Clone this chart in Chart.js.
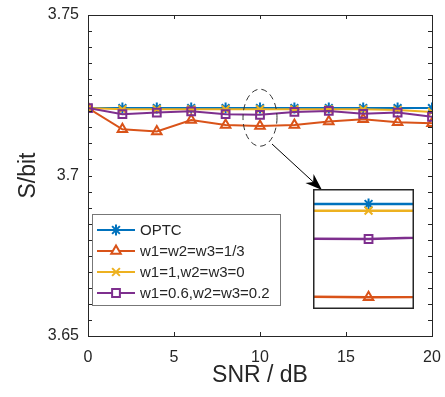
<!DOCTYPE html>
<html>
<head>
<meta charset="utf-8">
<script src="https://cdn.jsdelivr.net/npm/chart.js@4/dist/chart.umd.min.js"></script>
<style>
  html, body { margin: 0; padding: 0; background: #fff; }
  #wrap { position: relative; width: 445px; height: 397px; }
  #main { position: absolute; left: 0; top: 0; }
  #inset { position: absolute; left: 313px; top: 189px; }
</style>
</head>
<body>
<div id="wrap">
  <canvas id="main" width="445" height="397"></canvas>
  <canvas id="inset" width="101" height="120"></canvas>
</div>
<script>
const snr = [0, 2, 4, 6, 8, 10, 12, 14, 16, 18, 20];
const optc = [3.7210, 3.7210, 3.7210, 3.7210, 3.7210, 3.7210, 3.7210, 3.7210, 3.7210, 3.7210, 3.7210];
const equalW = [3.7210, 3.7144, 3.7137, 3.7173, 3.7157, 3.7154, 3.7157, 3.7168, 3.7175, 3.7166, 3.7163];
const w1Only = [3.7210, 3.7206, 3.7206, 3.7206, 3.7206, 3.7206, 3.7206, 3.7206, 3.7206, 3.7204, 3.7198];
const w1Mixed = [3.7210, 3.7191, 3.7196, 3.7200, 3.7191, 3.7189, 3.7198, 3.7201, 3.7192, 3.7196, 3.7183];
const labels = ["OPTC", "w1=w2=w3=1/3", "w1=1,w2=w3=0", "w1=0.6,w2=w3=0.2"];
const xTicks = [0, 5, 10, 15, 20];
const yTicks = [3.65, 3.7, 3.75];

const FONT = "'Liberation Sans', Arial, sans-serif";
const AX = "#262626";

const seriesStyle = [
  { color: "#0072BD", point: "star", order: 4 },
  { color: "#D95319", point: "triangle", order: 3 },
  { color: "#EDB120", point: "crossRot", order: 2 },
  { color: "#7E2F8E", point: "rect", order: 1 },
];

function makeDatasets(radius, width) {
  return [optc, equalW, w1Only, w1Mixed].map((vals, i) => ({
    label: labels[i],
    data: snr.map((x, j) => ({ x, y: vals[j] })),
    borderColor: seriesStyle[i].color,
    backgroundColor: "rgba(0,0,0,0)",
    borderWidth: width,
    pointStyle: seriesStyle[i].point,
    pointRadius: radius,
    pointBorderWidth: 2,
    pointBorderColor: seriesStyle[i].color,
    pointBackgroundColor: "rgba(0,0,0,0)",
    order: seriesStyle[i].order,
    tension: 0,
    clip: 0,
  }));
}

// axes frame, inward ticks, titles, ellipse, arrow, legend
const decor = {
  id: "decor",
  afterDraw(chart) {
    const { ctx, chartArea: a, scales } = chart;
    const xs = scales.x, ys = scales.y;
    ctx.save();
    ctx.strokeStyle = AX;
    ctx.lineWidth = 1;
    ctx.strokeRect(Math.round(a.left) + 0.5, Math.round(a.top) + 0.5,
      Math.round(a.right - a.left), Math.round(a.bottom - a.top));
    ctx.beginPath();
    for (let i = 0; i <= 20; i++) {
      const py = Math.round(ys.getPixelForValue(3.65 + i * 0.005)) + 0.5;
      ctx.moveTo(a.left, py); ctx.lineTo(a.left + 4, py);
      ctx.moveTo(a.right, py); ctx.lineTo(a.right - 4, py);
    }
    xTicks.forEach(v => {
      const px = Math.round(xs.getPixelForValue(v)) + 0.5;
      ctx.moveTo(px, a.bottom); ctx.lineTo(px, a.bottom - 4);
      ctx.moveTo(px, a.top); ctx.lineTo(px, a.top + 4);
    });
    ctx.stroke();

    // titles
    ctx.fillStyle = AX;
    ctx.font = "23px " + FONT;
    ctx.textAlign = "center";
    ctx.textBaseline = "middle";
    ctx.fillText("SNR / dB", (a.left + a.right) / 2, 376);
    ctx.save();
    ctx.translate(29, (a.top + a.bottom) / 2);
    ctx.rotate(-Math.PI / 2);
    ctx.fillText("S/bit", 0, 0);
    ctx.restore();

    // dashed ellipse around SNR = 10
    const ex = xs.getPixelForValue(10), ey = ys.getPixelForValue(3.7180);
    ctx.setLineDash([6, 4]);
    ctx.strokeStyle = "#333";
    ctx.beginPath();
    ctx.ellipse(ex, ey, 17, 28.5, 0, 0, Math.PI * 2);
    ctx.stroke();
    ctx.setLineDash([]);

    // arrow to inset
    const x0 = 272, y0 = 144, x1 = 322, y1 = 190;
    const ang = Math.atan2(y1 - y0, x1 - x0);
    const c = Math.cos(ang), s = Math.sin(ang);
    ctx.strokeStyle = "#000";
    ctx.beginPath();
    ctx.moveTo(x0, y0);
    ctx.lineTo(x1 - 10 * c, y1 - 10 * s);
    ctx.stroke();
    ctx.fillStyle = "#000";
    ctx.beginPath();
    ctx.moveTo(x1, y1);
    ctx.lineTo(x1 - 17 * c + 6 * s, y1 - 17 * s - 6 * c);
    ctx.lineTo(x1 - 12 * c, y1 - 12 * s);
    ctx.lineTo(x1 - 17 * c - 6 * s, y1 - 17 * s + 6 * c);
    ctx.closePath();
    ctx.fill();

    // legend box
    const lx = 92, ly = 214, lw = 188, lh = 91;
    ctx.fillStyle = "#fff";
    ctx.fillRect(lx, ly, lw, lh);
    ctx.strokeStyle = "#777";
    ctx.strokeRect(lx + 0.5, ly + 0.5, lw, lh);
    ctx.font = "15px " + FONT;
    ctx.textAlign = "left";
    ctx.textBaseline = "middle";
    chart.data.datasets.forEach((ds, i) => {
      const cy = 230 + i * 21;
      ctx.strokeStyle = ds.borderColor;
      ctx.lineWidth = 2;
      ctx.beginPath();
      ctx.moveTo(97, cy); ctx.lineTo(135, cy);
      ctx.stroke();
      ctx.fillStyle = "#fff";
      Chart.helpers.drawPoint(ctx, {
        pointStyle: ds.pointStyle, radius: 5.5, rotation: 0, borderWidth: 2
      }, 116, cy);
      ctx.fillStyle = AX;
      ctx.fillText(ds.label, 140, cy + 1);
    });
    ctx.restore();
  }
};

new Chart(document.getElementById("main"), {
  type: "line",
  data: { datasets: makeDatasets(5.5, 2) },
  options: {
    responsive: false,
    animation: false,
    events: [],
    layout: { padding: { top: 15, right: 13, left: 0, bottom: 0 } },
    plugins: { legend: { display: false }, tooltip: { enabled: false } },
    scales: {
      x: {
        type: "linear", min: 0, max: 20,
        afterFit: s => { s.height = 61; s.paddingLeft = 0; s.paddingRight = 0; },
        afterBuildTicks: s => { s.ticks = xTicks.map(v => ({ value: v })); },
        grid: { display: false, drawTicks: false },
        border: { display: false },
        ticks: { color: AX, font: { family: FONT, size: 16 }, padding: 12, maxRotation: 0 },
      },
      y: {
        type: "linear", min: 3.65, max: 3.75,
        afterFit: s => { s.width = 88; s.paddingTop = 0; s.paddingBottom = 0; },
        afterBuildTicks: s => { s.ticks = yTicks.map(v => ({ value: v })); },
        grid: { display: false, drawTicks: false },
        border: { display: false },
        ticks: {
          color: AX, font: { family: FONT, size: 16 }, padding: 9,
          callback: v => String(Number(v.toFixed(2))),
        },
      },
    },
  },
  plugins: [decor],
});

// zoomed view around SNR = 10
const insetFrame = {
  id: "insetFrame",
  afterDraw(chart) {
    const ctx = chart.ctx;
    ctx.save();
    ctx.strokeStyle = AX;
    ctx.lineWidth = 1.5;
    ctx.strokeRect(0.75, 0.75, chart.width - 1.5, chart.height - 1.5);
    ctx.restore();
  }
};

new Chart(document.getElementById("inset"), {
  type: "line",
  data: { datasets: makeDatasets(5.5, 2.5) },
  options: {
    responsive: false,
    animation: false,
    events: [],
    layout: { padding: 0, autoPadding: false },
    plugins: { legend: { display: false }, tooltip: { enabled: false } },
    scales: {
      x: { type: "linear", min: 9.78, max: 10.18, display: false },
      y: { type: "linear", min: 3.7147, max: 3.7219, display: false },
    },
  },
  plugins: [insetFrame],
});
</script>
</body>
</html>
